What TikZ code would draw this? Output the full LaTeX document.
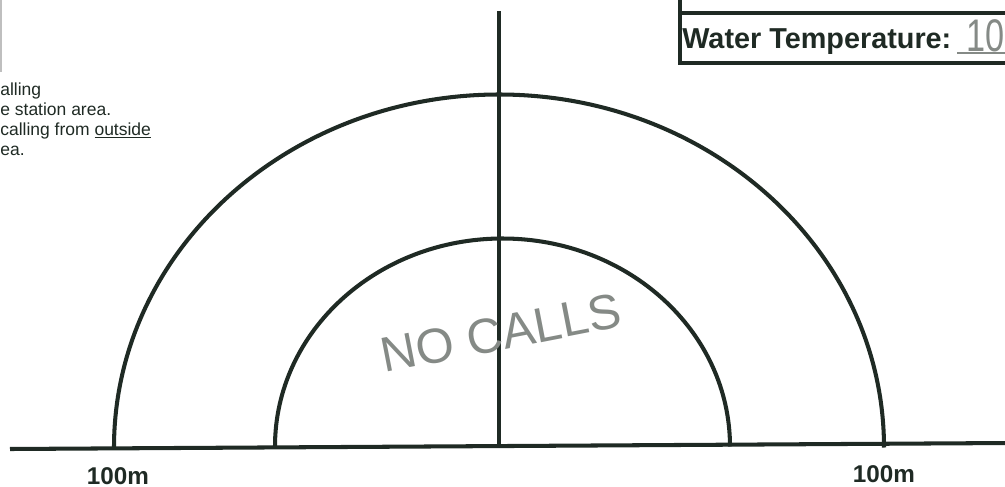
\documentclass[tikz,border=0pt]{standalone}
\usepackage{fontspec}
\setmainfont{Liberation Sans}
\usepackage{tikz}
\usetikzlibrary{calc}

\definecolor{ink}{HTML}{1F2A24}
\definecolor{pencil}{HTML}{858A86}

\begin{document}
\begin{tikzpicture}[x=0.02cm, y=-0.02cm,
    zone/.style={ink, line width=2.3pt},
    boxline/.style={ink, line width=1.8pt},
    note/.style={inner sep=0pt, anchor=base west, font=\fontsize{9.95}{12}\selectfont, text=ink},
    dist/.style={inner sep=0pt, anchor=base, font=\fontsize{13.8}{16}\selectfont\bfseries, text=ink},
    hand/.style={inner sep=0pt, text=pencil}]

    \useasboundingbox (0,0) rectangle (1005,487);
    \clip (0,0) rectangle (1005,487);

    % 1. cut-off text on the left
    \draw[gray!50, line width=1.6pt] (1,0) -- (1,72);
    \node[note] (noteA) at (0,95) {alling};
    \node[note] (noteB) at (0,115) {e station area.};
    \node[note] (noteC) at (0,135) {calling from \underline{outside}};
    \node[note] (noteD) at (0,155) {ea.};

    % 2. water temperature box (top right)
    \draw[boxline] (680,-5) -- (680,63) -- (1010,63);
    \draw[ink, line width=2.8pt] (680,13) -- (1010,13);
    \node[inner sep=0pt, anchor=base west, font=\fontsize{16.4}{19}\selectfont\bfseries, text=ink]
      (temp) at (682,48) {Water Temperature:};
    \draw[pencil, line width=0.9pt] (957,53) -- (1010,53);
    \node[hand, anchor=base west, xscale=0.75, font=\fontsize{26}{28}\selectfont] (tempval) at (966,51) {10};

    % 3. base line and centre line
    \draw[zone] (10,449) -- (1010,443);
    \draw[zone] (499,11) -- (499,446);

    % 4. the two zones
    \draw[zone] (114,447.5) arc[start angle=180, end angle=0, x radius=385, y radius=-353];
    \draw[zone] (275,446.5) arc[start angle=180, end angle=0, x radius=227.5, y radius=-208];

    % 5. labels
    \node[dist] (leftlabel) at (118,484) {100m};
    \node[dist] (rightlabel) at (884,482) {100m};
    \node[hand, rotate=11, font=\fontsize{28}{30}\selectfont] (nocalls) at (501,333) {NO CALLS};

\end{tikzpicture}
\end{document}
